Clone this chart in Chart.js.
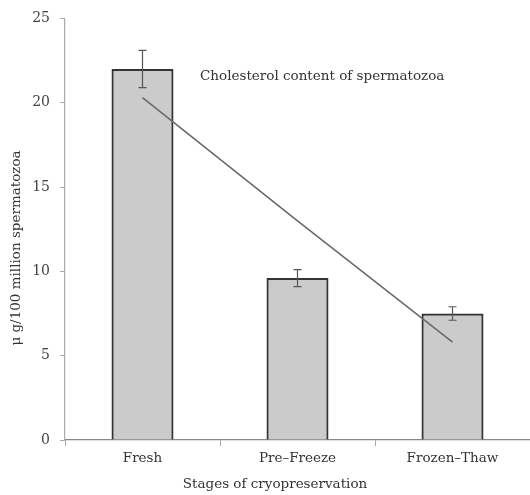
<!DOCTYPE html>
<html>
<head>
	<meta charset="UTF-8">
	<title>Cholesterol content of spermatozoa</title>
	<script src="https://cdn.jsdelivr.net/npm/chart.js@4.4.0/dist/chart.umd.min.js"></script>
	<style>
		body { margin:0; padding:0; overflow:hidden; background:#fff; }
		canvas { display:block; }
	</style>
</head>
<body>
	<canvas id="chart" width="530" height="495"></canvas>
	<script>
		// values
		const stages = ['Fresh', 'Pre\u2013Freeze', 'Frozen\u2013Thaw'];
		const cholesterol = [22.0, 9.6, 7.5];
		const errors = [1.1, 0.5, 0.4];
		const trend = [20.3, 13.0, 5.8];
		const yTicks = [0, 5, 10, 15, 20, 25];

		const serif = '"DejaVu Serif", "Liberation Serif", serif';

		// error bars drawn from the scales
		const errorBars = {
			id: 'errorBars',
			afterDatasetsDraw(chart) {
				const ctx = chart.ctx;
				const x = chart.scales.x, y = chart.scales.y;
				ctx.save();
				ctx.strokeStyle = '#555';
				ctx.lineWidth = 1.2;
				cholesterol.forEach((v, i) => {
					const px = x.getPixelForValue(i);
					const top = y.getPixelForValue(v + errors[i]);
					const bot = y.getPixelForValue(v - errors[i]);
					ctx.beginPath();
					ctx.moveTo(px, top); ctx.lineTo(px, bot);
					ctx.moveTo(px - 4, top); ctx.lineTo(px + 4, top);
					ctx.moveTo(px - 4, bot); ctx.lineTo(px + 4, bot);
					ctx.stroke();
				});
				ctx.restore();
			}
		};

		// titles and the note inside the plot
		const texts = {
			id: 'texts',
			afterDraw(chart) {
				const ctx = chart.ctx;
				ctx.save();
				ctx.fillStyle = '#333';
				ctx.font = '13.5px ' + serif;
				ctx.textAlign = 'left';
				ctx.textBaseline = 'middle';
				ctx.fillText('Cholesterol content of spermatozoa', 200, 76);
				ctx.textAlign = 'center';
				ctx.fillText('Stages of cryopreservation', 275, 484);
				ctx.translate(16, 248);
				ctx.rotate(-Math.PI / 2);
				ctx.fillText('\u03bc g/100 million spermatozoa', 0, 0);
				ctx.restore();
			}
		};

		const ctx = document.getElementById('chart').getContext('2d');
		new Chart(ctx, {
			data: {
				labels: stages,
				datasets: [{
					type: 'line',
					data: trend,
					borderColor: '#6a6a6a',
					borderWidth: 1.6,
					pointRadius: 0,
					fill: false,
					order: 0
				}, {
					type: 'bar',
					data: cholesterol,
					backgroundColor: '#cbcbcb',
					borderColor: '#333',
					borderWidth: 2.2,
					barPercentage: 0.8,
					categoryPercentage: 0.5,
					order: 1
				}]
			},
			plugins: [errorBars, texts],
			options: {
				responsive: false,
				animation: false,
				layout: { padding: { top: 16, right: 0, left: 0, bottom: 0 } },
				plugins: {
					legend: { display: false },
					tooltip: { enabled: false }
				},
				scales: {
					x: {
						afterFit(s) { s.height = 55; },
						grid: { display: true, drawOnChartArea: false, offset: true, tickLength: 6, color: '#aaa' },
						border: { display: true, color: '#888', width: 1.2 },
						ticks: { color: '#333', font: { family: serif, size: 13.5 }, padding: 4 }
					},
					y: {
						min: 0,
						max: 25,
						afterFit(s) { s.width = 65; },
						afterBuildTicks(s) { s.ticks = yTicks.map(v => ({ value: v })); },
						grid: { display: true, drawOnChartArea: false, tickLength: 5, color: '#aaa' },
						border: { display: true, color: '#aaa', width: 1.2 },
						ticks: { color: '#444', font: { family: serif, size: 14 }, padding: 10 }
					}
				}
			}
		});
	</script>
</body>
</html>
